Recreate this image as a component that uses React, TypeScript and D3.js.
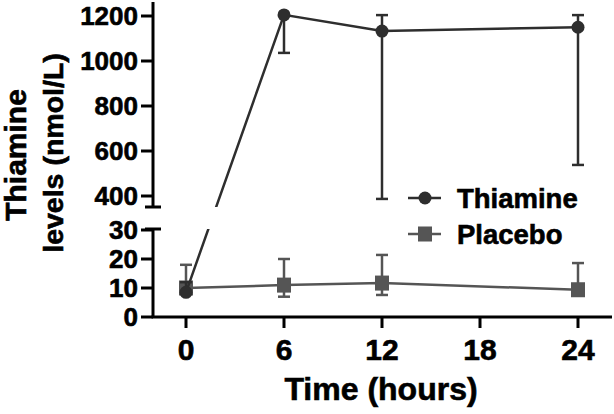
import React from "react";
import * as d3 from "d3";

// time points (hours)
const hours = [0, 6, 12, 24];

// thiamine group: mean and error bar ends
const thiamineMean = [8.5, 1205, 1133, 1150];
const thiamineHi = [12, 1205, 1204, 1204];
const thiamineLo = [8.5, 1036, 387, 538];

// placebo group
const placeboMean = [10, 11, 11.7, 9.4];
const placeboHi = [18, 20, 21.4, 18.6];
const placeboLo = [10, 7, 7.6, 9.4];

const xTicks = [0, 6, 12, 18, 24];
const upperTicks = [400, 600, 800, 1000, 1200];
const lowerTicks = [0, 10, 20, 30];

const W = 614;
const H = 414;
const FONT = "'Liberation Sans', Arial, Helvetica, sans-serif";

const App = () => {
  const x = d3.scaleLinear().domain([0, 24]).range([186, 578]);
  const yHigh = d3.scaleLinear().domain([400, 1200]).range([196, 16]);
  const yLow = d3.scaleLinear().domain([0, 30]).range([317, 230]);
  // broken axis: small values go to the lower panel
  const y = (v: number) => (v <= 30 ? yLow(v) : yHigh(v));

  const axisX = 153;
  const upperTop = 2;
  const upperBottom = 207;
  const lowerTop = 229;
  const baseY = 317;

  const line = d3
    .line<number>()
    .x((d, i) => x(hours[i]))
    .y((d) => y(d));

  const thiColor = "#2e2e2e";
  const plaColor = "#555555";

  const errBars = (mean: number[], hi: number[], lo: number[], color: string) =>
    hours.map((h, i) => {
      const cx = x(h);
      const yt = y(hi[i]);
      const yb = y(lo[i]);
      return (
        <g key={"e" + i} stroke={color} strokeWidth={2.5}>
          <line x1={cx} x2={cx} y1={yt} y2={yb} />
          {hi[i] !== mean[i] && <line x1={cx - 6} x2={cx + 6} y1={yt} y2={yt} />}
          {lo[i] !== mean[i] && <line x1={cx - 6} x2={cx + 6} y1={yb} y2={yb} />}
        </g>
      );
    });

  return (
    <svg
      width={W}
      height={H}
      style={{ position: "absolute", left: 0, top: 0, background: "#fff" }}
      fontFamily={FONT}
      fontWeight="bold"
    >
      <defs>
        <clipPath id="clipUp">
          <rect x={0} y={0} width={W} height={upperBottom} />
        </clipPath>
        <clipPath id="clipLow">
          <rect x={0} y={lowerTop} width={W} height={H - lowerTop} />
        </clipPath>
      </defs>

      {/* all labels get a thin outline to look as heavy as the original */}
      <g stroke="#000" strokeWidth={0.6}>
        {/* y axis title */}
        <g textAnchor="middle" fontSize={30}>
          <text transform={`translate(26,155) rotate(-90)`}>Thiamine</text>
          <text transform={`translate(63,153) rotate(-90)`} fontSize={28.5}>
            levels (nmol/L)
          </text>
        </g>

        <g fontSize={26} textAnchor="end">
          {upperTicks.map((t) => (
            <text key={t} x={138} y={yHigh(t) + 9}>
              {t}
            </text>
          ))}
          {lowerTicks.map((t) => (
            <text key={t} x={138} y={yLow(t) + 9}>
              {t}
            </text>
          ))}
        </g>
        <g fontSize={30} textAnchor="middle">
          {xTicks.map((t) => (
            <text key={t} x={x(t)} y={360}>
              {t}
            </text>
          ))}
        </g>
        <text x={381} y={400} fontSize={32} textAnchor="middle">
          Time (hours)
        </text>
        <text x={457} y={208} fontSize={27.5}>
          Thiamine
        </text>
        <text x={457} y={244} fontSize={27.5}>
          Placebo
        </text>
      </g>

      {/* broken y axis and x axis */}
      <g stroke="#000" strokeWidth={3}>
        <line x1={axisX} x2={axisX} y1={upperTop} y2={upperBottom} />
        <line x1={axisX - 8} x2={axisX + 8} y1={upperBottom} y2={upperBottom} />
        {upperTicks.map((t) => (
          <line key={t} x1={axisX - 12} x2={axisX} y1={yHigh(t)} y2={yHigh(t)} />
        ))}
        <line x1={axisX} x2={axisX} y1={lowerTop} y2={baseY} />
        <line x1={axisX - 8} x2={axisX + 8} y1={lowerTop} y2={lowerTop} />
        {lowerTicks.map((t) => (
          <line key={t} x1={axisX - 12} x2={axisX} y1={yLow(t)} y2={yLow(t)} />
        ))}
        <line x1={axisX - 1.5} x2={612} y1={baseY} y2={baseY} />
        {xTicks.map((t) => (
          <line key={t} x1={x(t)} x2={x(t)} y1={baseY} y2={baseY + 11} />
        ))}
      </g>

      {/* placebo */}
      {errBars(placeboMean, placeboHi, placeboLo, plaColor)}
      <path d={line(placeboMean) || ""} fill="none" stroke={plaColor} strokeWidth={2.5} />
      {hours.map((h, i) => (
        <rect
          key={"p" + i}
          x={x(h) - 7}
          y={y(placeboMean[i]) - 7.5}
          width={14}
          height={15}
          fill={plaColor}
        />
      ))}

      {/* thiamine */}
      {errBars(thiamineMean, thiamineHi, thiamineLo, thiColor)}
      <path
        d={line(thiamineMean) || ""}
        fill="none"
        stroke={thiColor}
        strokeWidth={2.5}
        clipPath="url(#clipUp)"
      />
      <path
        d={line(thiamineMean) || ""}
        fill="none"
        stroke={thiColor}
        strokeWidth={2.5}
        clipPath="url(#clipLow)"
      />
      {hours.map((h, i) => (
        <circle key={"t" + i} cx={x(h)} cy={y(thiamineMean[i])} r={6.5} fill={thiColor} />
      ))}

      {/* legend markers */}
      <line x1={408} x2={441} y1={198} y2={198} stroke={thiColor} strokeWidth={2.5} />
      <circle cx={425} cy={198} r={6.5} fill={thiColor} />
      <line x1={408} x2={441} y1={234} y2={234} stroke={plaColor} strokeWidth={2.5} />
      <rect x={418} y={226.5} width={14} height={15} fill={plaColor} />
    </svg>
  );
};

export default App;
